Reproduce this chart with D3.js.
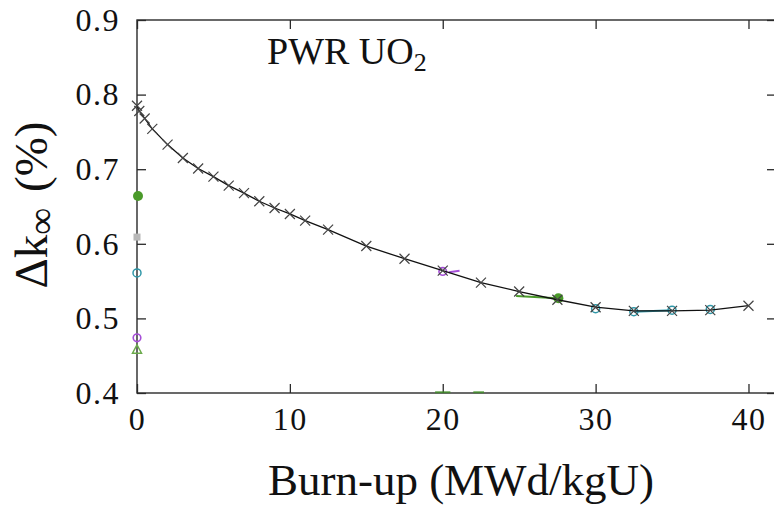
<!DOCTYPE html>
<html>
<head>
<meta charset="utf-8">
<script src="https://cdn.jsdelivr.net/npm/d3@7"></script>
<style>
  html, body { margin: 0; padding: 0; background: #fff; }
</style>
</head>
<body>
<div id="root"><svg></svg></div>
<script>
const width = 774, height = 505;
const serif = "'Liberation Serif', 'DejaVu Serif', 'Times New Roman', serif";

// burn-up steps and reactivity difference of the reference curve
const burnup = [0, 0.15, 0.5, 1, 2, 3, 4, 5, 6, 7, 8, 9, 10, 11, 12.5, 15, 17.5, 20, 22.5, 25, 27.5, 30, 32.5, 35, 37.5, 40];
const dk = [0.785, 0.778, 0.768, 0.754, 0.733, 0.715, 0.701, 0.690, 0.678, 0.668, 0.657, 0.648, 0.640, 0.631, 0.619, 0.597, 0.580, 0.564, 0.548, 0.536, 0.525, 0.515, 0.510, 0.510, 0.511, 0.517];

// left-over points of the other (mostly hidden) series
const greenDots = [[0, 0.664], [27.5, 0.527]];
const grayDots = [[0, 0.609]];
const tealDots = [[0, 0.561], [30, 0.513], [32.5, 0.509], [35, 0.511], [37.5, 0.512]];
const purpleDots = [[0, 0.474], [20, 0.563]];
const lightGreenDots = [[0, 0.458]];
const greenLine = [[24.8, 0.530], [27.5, 0.527]];
const tealLine = [[32.5, 0.509], [35, 0.511]];
const purpleLine = [[20.4, 0.562], [21.1, 0.564]];
const bottomGreen = [[[19.5, 0.401], [20.5, 0.401]], [[22.0, 0.401], [22.7, 0.401]]];

const xTicks = [0, 10, 20, 30, 40];
const yTicks = [0.4, 0.5, 0.6, 0.7, 0.8, 0.9];

const x = d3.scaleLinear().domain([0, 41.8]).range([137, 776]);
const y = d3.scaleLinear().domain([0.4, 0.9]).range([393, 20]);

const svg = d3.select('#root').select('svg')
    .attr('width', width)
    .attr('height', height)
    .attr('font-family', serif);

const tickLen = 9;
const axisColor = '#2a2a2a';

// frame + inward ticks
svg.append('rect')
    .attr('x', x(0)).attr('y', y(0.9))
    .attr('width', x(41.8) - x(0)).attr('height', y(0.4) - y(0.9))
    .attr('fill', 'none').attr('stroke', axisColor).attr('stroke-width', 1.4);

const clean = g => g.attr('font-family', serif).attr('font-size', 32).select('.domain').remove();

svg.append('g').attr('transform', `translate(0,${y(0.4)})`)
    .call(d3.axisBottom(x).tickValues(xTicks).tickSize(-tickLen).tickPadding(14).tickFormat(d3.format('d')))
    .call(clean);
svg.append('g').attr('transform', `translate(0,${y(0.9)})`)
    .call(d3.axisTop(x).tickValues(xTicks).tickSize(-tickLen).tickFormat(''))
    .call(clean);
svg.append('g').attr('transform', `translate(${x(0)},0)`)
    .call(d3.axisLeft(y).tickValues(yTicks).tickSize(-tickLen).tickPadding(17).tickFormat(d3.format('.1f')))
    .call(clean);
svg.append('g').attr('transform', `translate(${x(41.8)},0)`)
    .call(d3.axisRight(y).tickValues(yTicks).tickSize(-tickLen).tickFormat(''))
    .call(clean);

svg.selectAll('.tick line').attr('stroke', axisColor).attr('stroke-width', 1.3);
svg.selectAll('.tick text')
    .attr('font-family', serif)
    .attr('font-size', 32)
    .attr('letter-spacing', 1.5)
    .attr('fill', '#111');

// clip to plot
svg.append('clipPath').attr('id', 'clip')
    .append('rect').attr('x', x(0) - 8).attr('y', y(0.9)).attr('width', x(41.8) - x(0) + 8).attr('height', y(0.4) - y(0.9) + 2);
const plot = svg.append('g').attr('clip-path', 'url(#clip)');

const line = d3.line().x(d => x(d[0])).y(d => y(d[1]));

// coloured fragments
plot.append('path').datum(greenLine).attr('d', line).attr('fill', 'none').attr('stroke', '#4a9a2a').attr('stroke-width', 2);
plot.append('path').datum(tealLine).attr('d', line).attr('fill', 'none').attr('stroke', '#2f97a8').attr('stroke-width', 2);
plot.append('path').datum(purpleLine).attr('d', line).attr('fill', 'none').attr('stroke', '#a64fd8').attr('stroke-width', 2);
bottomGreen.forEach(seg => {
    plot.append('path').datum(seg).attr('d', line).attr('fill', 'none').attr('stroke', '#3f8f25').attr('stroke-width', 2).attr('opacity', 0.8);
});

plot.selectAll('.gdot').data(greenDots).enter().append('circle')
    .attr('cx', d => x(d[0]) + 1).attr('cy', d => y(d[1])).attr('r', 5)
    .attr('fill', '#4a9a2a');
plot.selectAll('.grdot').data(grayDots).enter().append('rect')
    .attr('x', d => x(d[0]) - 3.5).attr('y', d => y(d[1]) - 3.5).attr('width', 7).attr('height', 7)
    .attr('fill', '#b8b8b8');
plot.selectAll('.tdot').data(tealDots).enter().append('circle')
    .attr('cx', d => x(d[0])).attr('cy', d => y(d[1])).attr('r', 4)
    .attr('fill', 'none').attr('stroke', '#2f97a8').attr('stroke-width', 1.5);
plot.selectAll('.pdot').data(purpleDots).enter().append('circle')
    .attr('cx', d => x(d[0])).attr('cy', d => y(d[1])).attr('r', 3.8)
    .attr('fill', 'none').attr('stroke', '#a64fd8').attr('stroke-width', 1.6);
plot.selectAll('.lgdot').data(lightGreenDots).enter().append('path')
    .attr('d', d => `M${x(d[0])},${y(d[1]) - 5}L${x(d[0]) + 4.5},${y(d[1]) + 3.5}L${x(d[0]) - 4.5},${y(d[1]) + 3.5}Z`)
    .attr('fill', 'none').attr('stroke', '#6aaa4a').attr('stroke-width', 1.5);

// reference curve
const pts = burnup.map((b, i) => [b, dk[i]]);
plot.append('path').datum(pts).attr('d', line)
    .attr('fill', 'none').attr('stroke', '#111').attr('stroke-width', 1.3);
const s = 5;
plot.selectAll('.cross').data(pts).enter().append('path')
    .attr('d', d => {
        const cx = x(d[0]), cy = y(d[1]);
        return `M${cx - s},${cy - s}L${cx + s},${cy + s}M${cx - s},${cy + s}L${cx + s},${cy - s}`;
    })
    .attr('stroke', '#444').attr('stroke-width', 1.2);

// labels
const pwr = svg.append('text').attr('x', 267).attr('y', 64)
    .attr('font-family', serif).attr('font-size', 38).attr('fill', '#111');
pwr.append('tspan').text('PWR UO');
pwr.append('tspan').attr('font-size', 26).attr('dy', 7).text('2');

svg.append('text')
    .attr('x', 461).attr('y', 495)
    .attr('text-anchor', 'middle')
    .attr('font-family', serif)
    .attr('font-size', 45)
    .attr('fill', '#111')
    .text('Burn-up (MWd/kgU)');

const yl = svg.append('text')
    .attr('transform', 'translate(47,205) rotate(-90)')
    .attr('text-anchor', 'middle')
    .attr('font-family', serif)
    .attr('font-size', 47)
    .attr('fill', '#111');
yl.append('tspan').text('Δk');
yl.append('tspan').attr('font-size', 38).attr('dy', 7).text('∞');
yl.append('tspan').attr('dy', -7).attr('dx', 4).text(' (%)');
</script>
</body>
</html>
